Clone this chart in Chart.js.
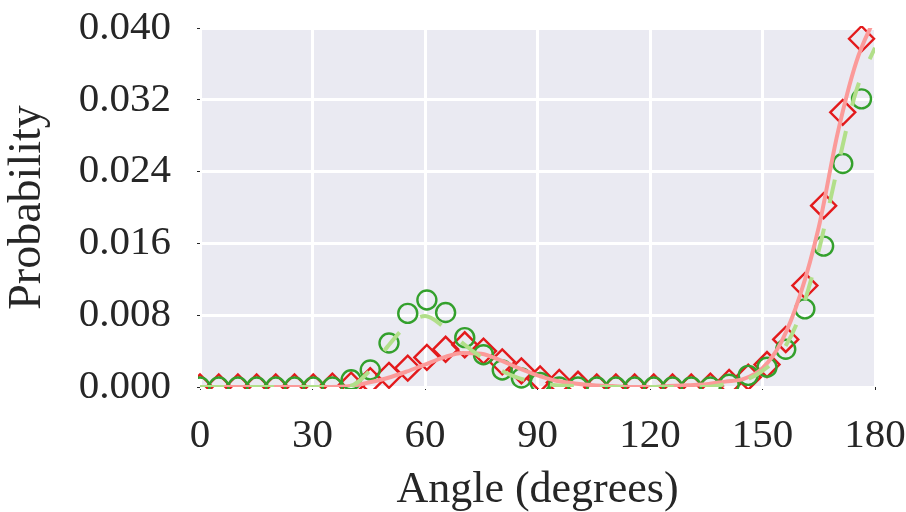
<!DOCTYPE html>
<html>
<head>
<meta charset="utf-8">
<script src="https://cdn.jsdelivr.net/npm/chart.js@4"></script>
<style>
  html, body { margin: 0; padding: 0; background: #fff; }
  #wrap { width: 906px; height: 512px; }
</style>
</head>
<body>
<div id="wrap"><canvas id="c" width="906" height="512"></canvas></div>
<script>
// angles of the measured points (degrees)
const angles = [0, 5, 10.1, 15.1, 20.2, 25.2, 30.2, 35.3, 40.3, 45.4, 50.4, 55.4,
  60.5, 65.5, 70.6, 75.6, 80.6, 85.7, 90.7, 95.8, 100.8, 105.8, 110.9, 115.9,
  121, 126, 131, 136.1, 141.1, 146.2, 151.2, 156.2, 161.3, 166.3, 171.4, 176.4]

// red diamonds
const redPoints = [0, 0, 0, 0, 0, 0, 0, 0.0001, 0.0002, 0.0007, 0.0013, 0.0021,
  0.0033, 0.0042, 0.0047, 0.0040, 0.0028, 0.0018, 0.0009, 0.0005, 0.0003, 0, 0, 0,
  0, 0, 0, 0.0001, 0.0005, 0.0011, 0.0025, 0.0053, 0.0113, 0.0202, 0.0306, 0.0388]

// green circles
const greenPoints = [0, 0, 0, 0, 0, 0, 0, 0, 0.0008, 0.0019, 0.0049, 0.0082,
  0.0097, 0.0083, 0.0055, 0.0036, 0.0019, 0.0010, 0.0005, 0, 0, 0, 0, 0,
  0, 0, 0, 0, 0.0003, 0.0013, 0.0022, 0.0042, 0.0087, 0.0157, 0.0249, 0.0321]

// fitted curves, read every 5 degrees
const fitAngles = [0, 5, 10, 15, 20, 25, 30, 35, 40, 45, 50, 55, 60, 65, 70, 75, 80, 85, 90,
  95, 100, 105, 110, 115, 120, 125, 130, 135, 140, 145, 150, 155, 160, 165, 170, 175, 180]
const redFit = [0, 0, 0, 0, 0, 0, 0, 0, 0.0001, 0.0005, 0.0010, 0.0017, 0.0025, 0.0033,
  0.0038, 0.0037, 0.0030, 0.0021, 0.0013, 0.0007, 0.0004, 0.0002, 0.0001, 0, 0, 0.0001,
  0.0002, 0.0003, 0.0006, 0.0009, 0.0021, 0.0050, 0.0102, 0.0178, 0.0282, 0.0362, 0.0412]
const greenFit = [0, 0, 0, 0, 0, 0, 0, 0, 0.0001, 0.0017, 0.0045, 0.0068, 0.0079, 0.0067,
  0.0049, 0.0033, 0.0019, 0.0010, 0.0005, 0.0002, 0.0001, 0, 0, 0, 0, 0,
  0, 0, 0.0003, 0.0007, 0.0018, 0.0038, 0.0080, 0.0152, 0.0244, 0.0330, 0.0378]

const xTicks = [0, 30, 60, 90, 120, 150, 180]
const yTicks = [0, 0.008, 0.016, 0.024, 0.032, 0.040]

const pts = (xs, ys) => xs.map((x, i) => ({ x: x, y: ys[i] }))

const FONT = "'Liberation Serif', 'DejaVu Serif', serif"
const INK = '#262626'

// grey plot background
const plotBg = {
  id: 'plotBg',
  beforeDraw(chart) {
    const a = chart.chartArea
    const ctx = chart.ctx
    ctx.save()
    ctx.fillStyle = '#eaeaf2'
    ctx.fillRect(a.left, a.top, a.right - a.left, a.bottom - a.top)
    ctx.restore()
  }
}

new Chart(document.getElementById('c'), {
  type: 'line',
  data: {
    datasets: [
      {
        data: pts(fitAngles, greenFit),
        borderColor: '#b2df8a',
        borderWidth: 4,
        borderDash: [24, 26],
        pointRadius: 0,
        cubicInterpolationMode: 'monotone',
        fill: false
      },
      {
        data: pts(fitAngles, redFit),
        borderColor: '#fb9a99',
        borderWidth: 4,
        pointRadius: 0,
        cubicInterpolationMode: 'monotone',
        fill: false
      },
      {
        data: pts(angles, greenPoints),
        showLine: false,
        pointStyle: 'circle',
        pointRadius: 9.5,
        pointBorderWidth: 2.4,
        pointBorderColor: '#33a02c',
        pointBackgroundColor: 'rgba(0,0,0,0)',
        clip: 2
      },
      {
        data: pts(angles, redPoints),
        showLine: false,
        pointStyle: 'rectRot',
        pointRadius: 12.5,
        pointBorderWidth: 2.4,
        pointBorderColor: '#e31a1c',
        pointBackgroundColor: 'rgba(0,0,0,0)',
        clip: 2
      }
    ]
  },
  options: {
    responsive: false,
    animation: false,
    layout: { padding: { top: 28, right: 31, left: 0, bottom: 0 } },
    plugins: { legend: { display: false }, tooltip: { enabled: false } },
    scales: {
      x: {
        type: 'linear',
        min: 0,
        max: 180,
        afterBuildTicks: axis => { axis.ticks = xTicks.map(v => ({ value: v })) },
        afterFit: axis => {
          axis.height = 125
          axis.paddingLeft = 0
          axis.paddingRight = 0
        },
        grid: { color: '#ffffff', lineWidth: 3, tickColor: INK, tickLength: 3, tickWidth: 1 },
        border: { display: false },
        ticks: { color: INK, font: { family: FONT, size: 41 }, padding: 22, maxRotation: 0 },
        title: {
          display: true,
          text: 'Angle (degrees)',
          color: INK,
          font: { family: FONT, size: 44, lineHeight: 1 },
          padding: 0
        }
      },
      y: {
        min: 0,
        max: 0.04,
        afterBuildTicks: axis => { axis.ticks = yTicks.map(v => ({ value: v })) },
        afterFit: axis => {
          axis.width = 200
          axis.paddingTop = 0
          axis.paddingBottom = 0
        },
        grid: { color: '#ffffff', lineWidth: 3, tickColor: INK, tickLength: 3, tickWidth: 1 },
        border: { display: false },
        ticks: {
          color: INK,
          font: { family: FONT, size: 41 },
          padding: 26,
          callback: v => v.toFixed(3)
        },
        title: {
          display: true,
          text: 'Probability',
          color: INK,
          font: { family: FONT, size: 46, lineHeight: 1 },
          padding: 5
        }
      }
    }
  },
  plugins: [plotBg]
})
</script>
</body>
</html>
